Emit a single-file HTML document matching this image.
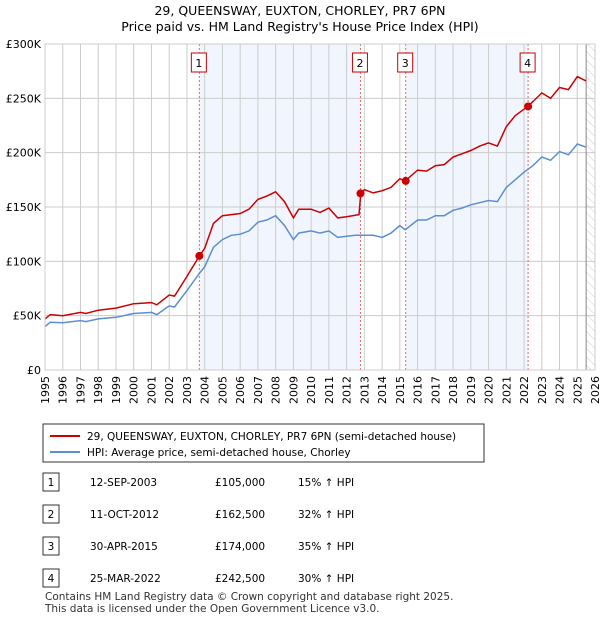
<!DOCTYPE html>
<html><head><meta charset="utf-8"><style>
body{margin:0;background:#fff;font-family:"Liberation Sans","DejaVu Sans",sans-serif;}
svg text{font-family:"DejaVu Sans","Liberation Sans",sans-serif;}
</style></head><body>
<svg id="c" width="600" height="620" xmlns="http://www.w3.org/2000/svg">
<defs><pattern id="hatch" width="6" height="6" patternUnits="userSpaceOnUse" patternTransform="rotate(-45)"><line x1="0" y1="0" x2="0" y2="6" stroke="#ccc" stroke-width="1"/></pattern></defs>
<text x="300" y="15" text-anchor="middle" font-size="12.5">29, QUEENSWAY, EUXTON, CHORLEY, PR7 6PN</text>
<text x="300" y="31" text-anchor="middle" font-size="12.5">Price paid vs. HM Land Registry's House Price Index (HPI)</text>
<g id="plot"></g>
<g>
<rect x="43" y="424" width="441" height="38" fill="#fff" stroke="#333"/>
<line x1="50" y1="436" x2="80" y2="436" stroke="#cc0000" stroke-width="2"/>
<text x="87" y="440" font-size="10.5">29, QUEENSWAY, EUXTON, CHORLEY, PR7 6PN (semi-detached house)</text>
<line x1="50" y1="452" x2="80" y2="452" stroke="#5b8fd0" stroke-width="2"/>
<text x="87" y="456" font-size="10.5">HPI: Average price, semi-detached house, Chorley</text>
</g>
<g id="table"></g>
<text x="45" y="600" font-size="10.5" fill="#333">Contains HM Land Registry data © Crown copyright and database right 2025.</text>
<text x="45" y="612" font-size="10.5" fill="#333">This data is licensed under the Open Government Licence v3.0.</text>
</svg>
<script>
const hpiYears=[1995,1995.3,1996,1997,1997.3,1998,1999,2000,2001,2001.3,2002,2002.3,2003,2003.7,2004,2004.5,2005,2005.5,2006,2006.5,2007,2007.5,2008,2008.5,2009,2009.3,2010,2010.5,2011,2011.5,2012,2012.5,2013,2013.5,2014,2014.5,2015,2015.3,2016,2016.5,2017,2017.5,2018,2018.5,2019,2019.5,2020,2020.5,2021,2021.5,2022,2022.5,2023,2023.5,2024,2024.5,2025,2025.5];
const hpiValues=[40,44,43.5,45.5,44.5,47,48.5,52,53,51,59,58,73,89,95,113,120,124,125,128,136,138,142,133,120,126,128,126,128,122,123,124,124,124,122,126,133,129,138,138,142,142,147,149,152,154,156,155,168,175,182,188,196,193,201,198,208,205];
const priceYears=[1995,1995.3,1996,1997,1997.3,1998,1999,2000,2001,2001.3,2002,2002.3,2003,2003.7,2004,2004.5,2005,2005.5,2006,2006.5,2007,2007.5,2008,2008.5,2009,2009.3,2010,2010.5,2011,2011.5,2012,2012.7,2012.8,2013,2013.5,2014,2014.5,2015,2015.3,2016,2016.5,2017,2017.5,2018,2018.5,2019,2019.5,2020,2020.5,2021,2021.5,2022,2022.2,2022.5,2023,2023.5,2024,2024.5,2025,2025.5];
const priceValues=[47,51,50,53,52,55,57,61,62,60,69,68,86,105,112,135,142,143,144,148,157,160,164,155,140,148,148,145,149,140,141,143,162.5,166,163,165,168,176,174,184,183,188,189,196,199,202,206,209,206,224,234,240,242.5,247,255,250,260,258,270,266];
const saleLabels=["1","2","3","4"];
const saleYears=[2003.70,2012.78,2015.33,2022.23];
const saleValues=[105,162.5,174,242.5];
const saleDates=["12-SEP-2003","11-OCT-2012","30-APR-2015","25-MAR-2022"];
const salePrices=["£105,000","£162,500","£174,000","£242,500"];
const salePct=["15% ↑ HPI","32% ↑ HPI","35% ↑ HPI","30% ↑ HPI"];
const yTicks=[0,50,100,150,200,250,300];
const yTickLabels=["£0","£50K","£100K","£150K","£200K","£250K","£300K"];
const xStart=1995,xEnd=2026,dataEnd=2025.5;

const X0=45,X1=595,Y0=370,Y1=44;
const xs=y=>X0+(y-xStart)/(xEnd-xStart)*(X1-X0);
const ys=v=>Y0-v/300*(Y0-Y1);
const NS="http://www.w3.org/2000/svg";
const plot=document.getElementById('plot');
function mk(tag,attrs,parent){const e=document.createElementNS(NS,tag);for(const k in attrs)e.setAttribute(k,attrs[k]);(parent||plot).appendChild(e);return e;}

// shaded bands
for(let i=0;i<saleYears.length;i+=2){
  const a=saleYears[i],b=i+1<saleYears.length?saleYears[i+1]:dataEnd;
  const r=mk('rect',{x:xs(a),y:Y1,width:xs(b)-xs(a),height:Y0-Y1,fill:'#eef3fc',opacity:0.8});
  
  
}
const h=mk('rect',{x:xs(dataEnd),y:Y1,width:X1-xs(dataEnd),height:Y0-Y1,fill:'url(#hatch)'});


// grid
for(let y=xStart;y<=xEnd;y++){
  const l=mk('line',{x1:xs(y),x2:xs(y),y1:Y1,y2:Y0,stroke:'#ccc','stroke-width':1});
  
  
  const t=mk('text',{transform:`translate(${xs(y)+4},${Y0+6}) rotate(-90)`,'text-anchor':'end','font-size':11});
  t.textContent=y;
  
  
}
yTicks.forEach((v,i)=>{
  const l=mk('line',{x1:X0,x2:X1,y1:ys(v),y2:ys(v),stroke:'#ccc','stroke-width':1});
  
  
  const t=mk('text',{x:X0-4,y:ys(v)+4,'text-anchor':'end','font-size':11});
  t.textContent=yTickLabels[i];
  
  
});
const dl=mk('line',{x1:xs(dataEnd),x2:xs(dataEnd),y1:Y1,y2:Y0,stroke:'#888','stroke-width':1});


// sale lines
saleYears.forEach((y,i)=>{
  const l=mk('line',{x1:xs(y),x2:xs(y),y1:Y1,y2:Y0,stroke:'#e66','stroke-width':1,'stroke-dasharray':'2,2'});
  
  
  const b=mk('rect',{x:xs(y)-8,y:53,width:15,height:19,fill:'#fff',stroke:'#c00'});
  
  
  const t=mk('text',{x:xs(y)-0.5,y:67,'text-anchor':'middle','font-size':11});
  t.textContent=saleLabels[i];
  
  
});
function line(xa,va,col,name){
  const p=mk('path',{d:xa.map((y,i)=>(i?'L':'M')+xs(y).toFixed(1)+','+ys(va[i]).toFixed(1)).join(''),fill:'none',stroke:col,'stroke-width':1.5});
  
  
}
line(hpiYears,hpiValues,'#5b8fd0','hpi-line');
line(priceYears,priceValues,'#cc0000','price-line');
saleYears.forEach((y,i)=>{
  const c=mk('circle',{cx:xs(y),cy:ys(saleValues[i]),r:4,fill:'#cc0000'});
  
  
});
// plot border
const bd=mk('rect',{x:X0,y:Y1,width:X1-X0,height:Y0-Y1,fill:'none',stroke:'#ccc'});


// table
const tb=document.getElementById('table');
saleLabels.forEach((s,i)=>{
  const cy=482+i*32;
  const b=mk('rect',{x:43,y:cy-9,width:16,height:18,fill:'#fff',stroke:'#333'},tb);
  
  
  const cells=[[51,s,'middle'],[90,saleDates[i],'start'],[215,salePrices[i],'start'],[298,salePct[i],'start']];
  cells.forEach(c=>{
    const t=mk('text',{x:c[0],y:cy+4,'text-anchor':c[2],'font-size':10.5},tb);
    t.textContent=c[1];
    
    
  });
});
</script>
</body></html>
